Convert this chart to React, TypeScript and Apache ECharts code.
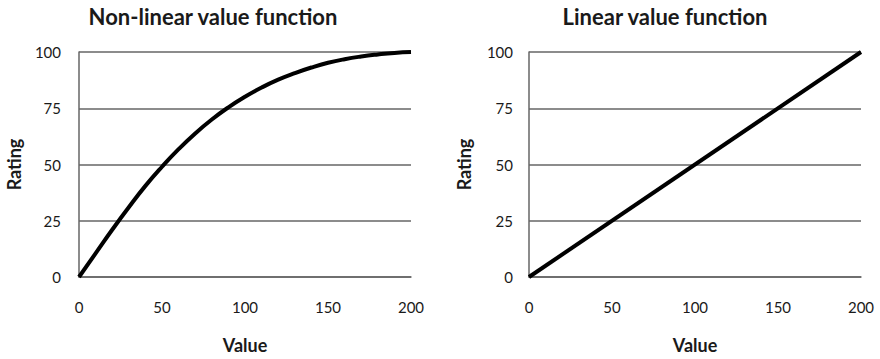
import React, { useEffect, useRef } from "react";
import * as echarts from "echarts";

const nonLinearX = [0, 10, 20, 30, 40, 50, 60, 70, 80, 90, 100, 110, 120, 130, 140, 150, 160, 170, 180, 190, 200];
const nonLinearY = [0, 10.5, 21, 31, 40.5, 49, 56.8, 63.8, 70, 75.4, 80.1, 84.2, 87.7, 90.6, 93.1, 95.2, 96.8, 98.0, 98.9, 99.6, 100];
const linearX = [0, 200];
const linearY = [0, 100];
const titles = ["Non-linear value function", "Linear value function"];
const xName = "Value";
const yName = "Rating";

const FONT = "Lato, 'Open Sans', sans-serif";

export default function App() {
  const ref = useRef<HTMLDivElement>(null);
  useEffect(() => {
    const chart = echarts.init(ref.current!, null, { renderer: "svg" });
    const xAxisBase = (gridIndex: number) => ({
      type: "value",
      gridIndex,
      min: 0,
      max: 200,
      interval: 50,
      name: xName,
      nameLocation: "middle",
      nameGap: 59,
      nameTextStyle: { fontFamily: FONT, fontWeight: "bold", fontSize: 18, color: "#1a1a1a" },
      axisLine: { show: true, lineStyle: { color: "#666", width: 1.5 } },
      axisTick: { show: false },
      splitLine: { show: false },
      axisLabel: { fontFamily: FONT, fontSize: 15, color: "#1a1a1a", margin: 22 },
    });
    const yAxisBase = (gridIndex: number) => ({
      type: "value",
      gridIndex,
      min: 0,
      max: 100,
      interval: 25,
      name: yName,
      nameLocation: "middle",
      nameGap: 56,
      nameRotate: 90,
      nameTextStyle: { fontFamily: FONT, fontWeight: "bold", fontSize: 18, color: "#1a1a1a" },
      axisLine: { show: true, lineStyle: { color: "#666", width: 1.5 } },
      axisTick: { show: false },
      splitLine: { show: true, lineStyle: { color: "#666", width: 1.5 } },
      axisLabel: { fontFamily: FONT, fontSize: 15, color: "#1a1a1a", margin: gridIndex === 0 ? 18 : 16 },
    });
    const titleStyle = { fontFamily: FONT, fontWeight: "bold", fontSize: 22, color: "#1a1a1a" };
    chart.setOption({
      animation: false,
      backgroundColor: "#fff",
      title: [
        { text: titles[0], left: 208, top: 0, textAlign: "center", textStyle: titleStyle },
        { text: titles[1], left: 660, top: 0, textAlign: "center", textStyle: titleStyle },
      ],
      grid: [
        { left: 79, right: 469, top: 52, bottom: 81 },
        { left: 529, right: 19, top: 52, bottom: 82 },
      ],
      xAxis: [xAxisBase(0), xAxisBase(1)],
      yAxis: [yAxisBase(0), yAxisBase(1)],
      series: [
        {
          type: "line",
          xAxisIndex: 0,
          yAxisIndex: 0,
          smooth: true,
          showSymbol: false,
          data: nonLinearX.map((x, i) => [x, nonLinearY[i]]),
          lineStyle: { color: "#000", width: 4 },
        },
        {
          type: "line",
          xAxisIndex: 1,
          yAxisIndex: 1,
          showSymbol: false,
          data: linearX.map((x, i) => [x, linearY[i]]),
          lineStyle: { color: "#000", width: 4 },
        },
      ],
    });
    return () => chart.dispose();
  }, []);
  return <div ref={ref} style={{ position: "absolute", left: 0, top: 0, width: 880, height: 359 }} />;
}
